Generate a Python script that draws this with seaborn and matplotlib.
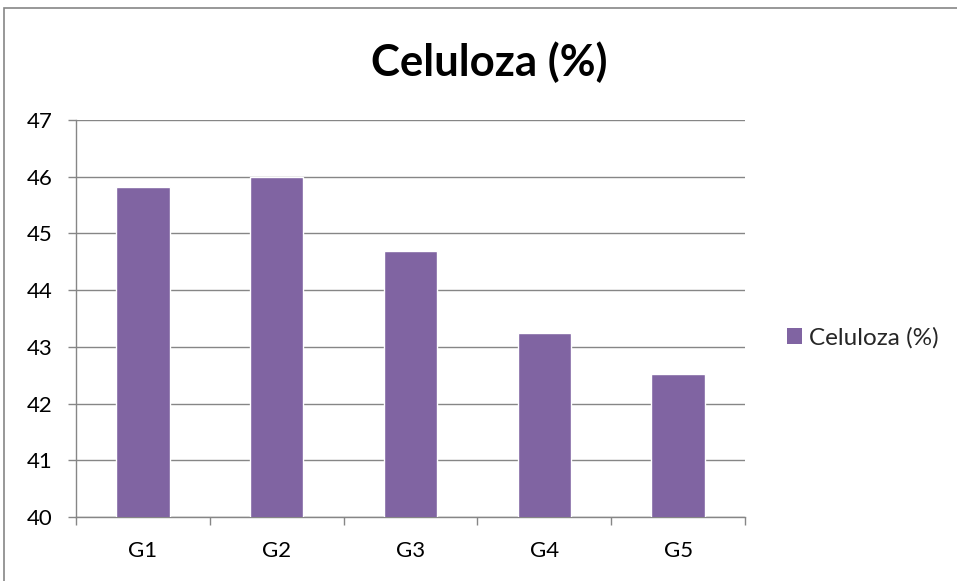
import matplotlib
matplotlib.use("Agg")
import matplotlib.pyplot as plt
import seaborn as sns
import pandas as pd
import numpy as np
from matplotlib.patches import Rectangle, Patch

categories = ["G1", "G2", "G3", "G4", "G5"]
values = [45.81, 46.0, 44.69, 43.24, 42.52]
series_name = "Celuloza (%)"
yticks = [40, 41, 42, 43, 44, 45, 46, 47]

sns.set_theme(style="white")
plt.rcParams['font.family'] = ['Lato', 'DejaVu Sans']

df = pd.DataFrame({"group": categories, "value": values})

fig = plt.figure(figsize=(9.57, 5.81), dpi=100)
ax = fig.add_axes([76/957, 64/581, 669/957, 397/581])

bar_color = "#8064A2"
grid_color = "#868686"

sns.barplot(data=df, x="group", y="value", color=bar_color, width=0.4,
            saturation=1, ax=ax, zorder=3)
ax.set_ylim(40, 47)
ax.set_xlim(-0.5, 4.5)
ax.set_yticks(yticks)
ax.set_yticklabels([str(t) for t in yticks], fontsize=16)
ax.set_xlabel("")
ax.set_ylabel("")
ax.yaxis.grid(True, color=grid_color, linewidth=1.0, zorder=0)
ax.set_axisbelow(True)

for s in ["top", "right"]:
    ax.spines[s].set_visible(False)
for s in ["left", "bottom"]:
    ax.spines[s].set_color(grid_color)
    ax.spines[s].set_linewidth(1.0)

ax.tick_params(axis="y", which="major", length=6, width=1, color=grid_color,
               direction="out", pad=11, labelcolor="black", left=True)
ax.tick_params(axis="x", which="major", length=0, pad=17, labelsize=16,
               labelcolor="black")
ax.set_xticks(np.arange(-0.5, 5.0, 1.0), minor=True)
ax.tick_params(axis="x", which="minor", length=6, width=1, color=grid_color,
               direction="out", bottom=True)

fig.text(489/957, 1 - 62/581, series_name, ha="center",
         va="center", fontsize=31.5, fontweight="bold", color="black")

handle = Patch(facecolor=bar_color, edgecolor="none")
fig.legend([handle], [series_name], loc="center left",
           bbox_to_anchor=(787/957, 1 - 338/581), frameon=False,
           borderpad=0, borderaxespad=0,
           fontsize=17.5, handlelength=0.62, handleheight=0.62, handletextpad=0.3)

fig.patches.append(Rectangle((4/957, -0.1), 1.2, 1 - 8/581 + 0.1,
                             transform=fig.transFigure, fill=False,
                             edgecolor=grid_color, linewidth=1.2))

fig.savefig("out.png", dpi=100)
